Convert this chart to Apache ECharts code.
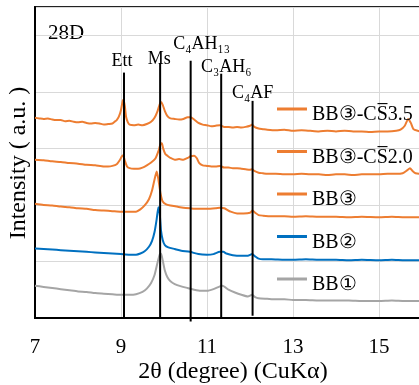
<!DOCTYPE html>
<html>
<head>
<meta charset="utf-8">
<script src="https://cdn.jsdelivr.net/npm/echarts@6/dist/echarts.min.js"></script>
<style>
  html, body { margin: 0; padding: 0; background: #fff; }
  #echarts { width: 419px; height: 385px; }
</style>
</head>
<body>
<div id="echarts"></div>
<script>
const FONT = "'Liberation Serif', 'Times New Roman', serif";

const seriesNames = ['BB③-CS\u03053.5', 'BB③-CS\u03052.0', 'BB③', 'BB②', 'BB①'];
const seriesColors = ['#ED7D31', '#ED7D31', '#ED7D31', '#0070C0', '#A5A5A5'];

// [2θ, intensity offset]
const bb3cs35 = [
  [7.0, 3.54], [7.1, 3.53], [7.2, 3.52], [7.3, 3.53], [7.4, 3.51], [7.5, 3.50], [7.6, 3.50], [7.7, 3.48],
  [7.8, 3.49], [7.9, 3.47], [8.0, 3.46], [8.1, 3.47], [8.2, 3.45], [8.3, 3.44], [8.4, 3.45], [8.5, 3.44],
  [8.6, 3.42], [8.7, 3.43], [8.8, 3.44], [8.85, 3.47], [8.9, 3.50], [8.95, 3.56], [9.0, 3.68], [9.04, 3.84],
  [9.06, 3.86], [9.09, 3.74], [9.12, 3.55], [9.16, 3.46], [9.2, 3.42], [9.3, 3.41], [9.4, 3.42], [9.5, 3.41],
  [9.6, 3.43], [9.7, 3.47], [9.78, 3.54], [9.85, 3.66], [9.9, 3.78], [9.93, 3.82], [9.97, 3.77], [10.02, 3.66],
  [10.08, 3.57], [10.15, 3.53], [10.25, 3.52], [10.35, 3.51], [10.45, 3.52], [10.55, 3.55], [10.62, 3.55],
  [10.7, 3.51], [10.8, 3.45], [10.9, 3.42], [11.0, 3.41], [11.1, 3.39], [11.2, 3.40], [11.3, 3.41], [11.4, 3.38],
  [11.5, 3.38], [11.6, 3.37], [11.7, 3.38], [11.8, 3.37], [11.9, 3.38], [12.0, 3.40], [12.05, 3.42], [12.1, 3.38],
  [12.2, 3.35], [12.3, 3.34], [12.4, 3.33], [12.6, 3.32], [12.8, 3.33], [13.0, 3.31], [13.2, 3.32], [13.4, 3.31],
  [13.6, 3.30], [13.8, 3.31], [14.0, 3.30], [14.2, 3.31], [14.4, 3.30], [14.6, 3.30], [14.8, 3.29], [15.0, 3.30],
  [15.2, 3.30], [15.4, 3.31], [15.5, 3.33], [15.6, 3.40], [15.68, 3.52], [15.74, 3.45], [15.8, 3.34], [15.9, 3.31],
  [16.0, 3.30], [16.2, 3.30]
];
const bb3cs20 = [
  [7.0, 2.80], [7.2, 2.79], [7.4, 2.77], [7.6, 2.76], [7.8, 2.74], [8.0, 2.73], [8.2, 2.71], [8.4, 2.70],
  [8.6, 2.68], [8.7, 2.68], [8.8, 2.69], [8.9, 2.72], [8.97, 2.79], [9.02, 2.86], [9.05, 2.88], [9.09, 2.78],
  [9.14, 2.68], [9.2, 2.65], [9.3, 2.64], [9.4, 2.64], [9.5, 2.66], [9.6, 2.70], [9.7, 2.75], [9.8, 2.82],
  [9.87, 2.95], [9.92, 3.08], [9.95, 3.09], [9.98, 3.00], [10.03, 2.90], [10.08, 2.87], [10.15, 2.83],
  [10.25, 2.80], [10.35, 2.81], [10.45, 2.80], [10.55, 2.83], [10.62, 2.86], [10.7, 2.87], [10.76, 2.83],
  [10.82, 2.74], [10.9, 2.70], [11.0, 2.69], [11.1, 2.68], [11.2, 2.68], [11.3, 2.69], [11.4, 2.66], [11.5, 2.66],
  [11.6, 2.65], [11.7, 2.65], [11.8, 2.64], [11.9, 2.63], [12.0, 2.62], [12.05, 2.63], [12.1, 2.60], [12.2, 2.57],
  [12.3, 2.56], [12.4, 2.55], [12.6, 2.55], [12.8, 2.54], [13.0, 2.54], [13.2, 2.55], [13.4, 2.54], [13.6, 2.54],
  [13.8, 2.53], [14.0, 2.54], [14.2, 2.54], [14.4, 2.53], [14.6, 2.54], [14.8, 2.54], [15.0, 2.54], [15.2, 2.55],
  [15.4, 2.55], [15.55, 2.56], [15.65, 2.61], [15.72, 2.65], [15.78, 2.60], [15.85, 2.56], [16.0, 2.55], [16.2, 2.55]
];
const bb3 = [
  [7.0, 2.02], [7.2, 2.00], [7.4, 1.99], [7.6, 1.97], [7.8, 1.96], [8.0, 1.94], [8.2, 1.93], [8.4, 1.91],
  [8.6, 1.90], [8.8, 1.89], [9.0, 1.88], [9.2, 1.88], [9.35, 1.88], [9.45, 1.92], [9.55, 1.99], [9.65, 2.10],
  [9.72, 2.25], [9.78, 2.45], [9.83, 2.59], [9.87, 2.45], [9.92, 2.20], [9.97, 2.06], [10.05, 2.01], [10.15, 1.99],
  [10.3, 1.97], [10.45, 1.95], [10.6, 1.94], [10.8, 1.93], [11.0, 1.93], [11.2, 1.94], [11.3, 1.95], [11.4, 1.94],
  [11.55, 1.88], [11.7, 1.85], [11.85, 1.85], [12.0, 1.86], [12.06, 1.90], [12.12, 1.86], [12.2, 1.82], [12.3, 1.81],
  [12.5, 1.80], [12.8, 1.80], [13.0, 1.79], [13.3, 1.80], [13.6, 1.79], [14.0, 1.79], [14.3, 1.78], [14.6, 1.79],
  [15.0, 1.78], [15.3, 1.79], [15.6, 1.78], [16.0, 1.78], [16.2, 1.78]
];
const bb2 = [
  [7.0, 1.23], [7.2, 1.22], [7.4, 1.21], [7.6, 1.20], [7.8, 1.19], [8.0, 1.18], [8.2, 1.17], [8.4, 1.16],
  [8.6, 1.15], [8.8, 1.14], [9.0, 1.13], [9.2, 1.12], [9.35, 1.12], [9.45, 1.14], [9.55, 1.18], [9.65, 1.26],
  [9.72, 1.36], [9.78, 1.52], [9.83, 1.75], [9.87, 1.96], [9.9, 1.85], [9.93, 1.55], [9.97, 1.38], [10.02, 1.29],
  [10.1, 1.25], [10.25, 1.22], [10.4, 1.19], [10.6, 1.17], [10.8, 1.13], [11.0, 1.12], [11.15, 1.13], [11.3, 1.17],
  [11.38, 1.17], [11.45, 1.14], [11.6, 1.11], [11.8, 1.10], [11.95, 1.10], [12.05, 1.13], [12.12, 1.09],
  [12.2, 1.05], [12.3, 1.04], [12.5, 1.04], [12.8, 1.03], [13.0, 1.03], [13.3, 1.04], [13.6, 1.03], [14.0, 1.03],
  [14.3, 1.02], [14.6, 1.03], [15.0, 1.02], [15.3, 1.03], [15.6, 1.02], [16.0, 1.02], [16.2, 1.02]
];
const bb1 = [
  [7.0, 0.57], [7.2, 0.55], [7.4, 0.53], [7.6, 0.51], [7.8, 0.49], [8.0, 0.47], [8.2, 0.46], [8.4, 0.44],
  [8.6, 0.43], [8.8, 0.42], [9.0, 0.41], [9.2, 0.41], [9.35, 0.42], [9.5, 0.46], [9.6, 0.52], [9.7, 0.62],
  [9.78, 0.76], [9.85, 0.98], [9.9, 1.12], [9.93, 1.14], [9.97, 1.02], [10.02, 0.84], [10.08, 0.72], [10.15, 0.65],
  [10.25, 0.60], [10.4, 0.56], [10.55, 0.53], [10.7, 0.50], [10.85, 0.48], [11.0, 0.48], [11.15, 0.51],
  [11.3, 0.56], [11.36, 0.57], [11.5, 0.50], [11.65, 0.45], [11.8, 0.41], [11.95, 0.38], [12.05, 0.41],
  [12.12, 0.37], [12.2, 0.35], [12.4, 0.34], [12.6, 0.33], [12.8, 0.33], [13.0, 0.32], [13.3, 0.32], [13.6, 0.31],
  [14.0, 0.31], [14.3, 0.31], [14.6, 0.30], [15.0, 0.30], [15.3, 0.31], [15.6, 0.30], [16.0, 0.30], [16.2, 0.30]
];
const seriesData = [bb3cs35, bb3cs20, bb3, bb2, bb1];

// reference phase lines
const phaseNames = ['Ett', 'Ms', 'C₄AH₁₃', 'C₃AH₆', 'C₄AF'];
const phasePos = [9.07, 9.91, 10.62, 11.33, 12.06];
const phaseTop = [4.34, 4.51, 4.55, 4.32, 3.84];
const phaseBottom = [0, 0, -0.06, 0, 0.04];

const xTicks = [7, 9, 11, 13, 15];

const myChart = echarts.init(document.getElementById('echarts'), null, { renderer: 'canvas' });

const labelDist = [5, 0, 9, 1, 3];
const labelOffset = [[-2, 3], [-1, 5], [11, 2], [5, 4], [0, 4]];

const series = seriesNames.map((name, i) => ({
  name: name,
  type: 'line',
  data: seriesData[i],
  symbol: 'none',
  smooth: 0.2,
  lineStyle: { color: seriesColors[i], width: 2 },
  itemStyle: { color: seriesColors[i] },
  z: 2,
}));

phaseNames.forEach((name, i) => {
  series.push({
    type: 'line',
    symbol: 'circle',
    symbolSize: 0,
    showSymbol: true,
    clip: false,
    silent: true,
    z: 5,
    lineStyle: { color: '#000', width: 2 },
    label: { show: false },
    data: [
      {
        value: [phasePos[i], phaseTop[i]],
        label: {
          show: true,
          position: 'top',
          distance: labelDist[i],
          offset: labelOffset[i],
          formatter: name,
          fontFamily: FONT,
          fontSize: 18,
          color: '#000',
        },
      },
      [phasePos[i], phaseBottom[i]],
    ],
  });
});

myChart.setOption({
  animation: false,
  grid: {
    left: 35,
    top: 7,
    width: 430,
    bottom: 67,
    outerBoundsMode: 'none',
    show: true,
    borderColor: '#222',
    borderWidth: 2,
  },
  legend: {
    data: seriesNames,
    orient: 'vertical',
    left: 272,
    top: 100,
    // short bar sitting a little above the text middle
    icon: 'path://M0,0L30,0L30,3L0,3Z M0,15L0.01,15L0.01,15.01Z',
    itemWidth: 30,
    itemHeight: 15,
    itemGap: 22.5,
    textStyle: { fontFamily: FONT, fontSize: 20, color: '#000' },
  },
  xAxis: {
    type: 'value',
    min: 7,
    max: 17,
    interval: 2,
    axisLine: { show: true, lineStyle: { color: '#000', width: 2 } },
    axisTick: { show: false },
    axisLabel: {
      margin: 19,
      fontFamily: FONT,
      fontSize: 21,
      color: '#000',
      formatter: (v) => (xTicks.includes(v) ? String(v) : ''),
    },
    splitLine: { show: true, lineStyle: { color: '#d9d9d9', width: 1 } },
  },
  yAxis: {
    type: 'value',
    min: 0,
    max: 5.5,
    interval: 1,
    axisLine: { show: true, lineStyle: { color: '#000', width: 2 } },
    axisTick: { show: false },
    axisLabel: { show: false },
    splitLine: { show: true, lineStyle: { color: '#d9d9d9', width: 1 } },
  },
  graphic: [
    {
      type: 'text', x: 233, y: 372,
      style: { text: '2θ (degree) (CuKα)', font: '24px ' + FONT, fill: '#000', align: 'center', verticalAlign: 'middle' },
    },
    {
      type: 'text', x: 19, y: 163, rotation: Math.PI / 2,
      style: { text: 'Intensity ( a.u. )', font: '24px ' + FONT, fill: '#000', align: 'center', verticalAlign: 'middle' },
    },
    {
      type: 'text', x: 48, y: 33,
      style: { text: '28D', font: '21px ' + FONT, fill: '#000', align: 'left', verticalAlign: 'middle' },
    },
  ],
  series: series,
});
window.addEventListener('resize', myChart.resize);
</script>
</body>
</html>
